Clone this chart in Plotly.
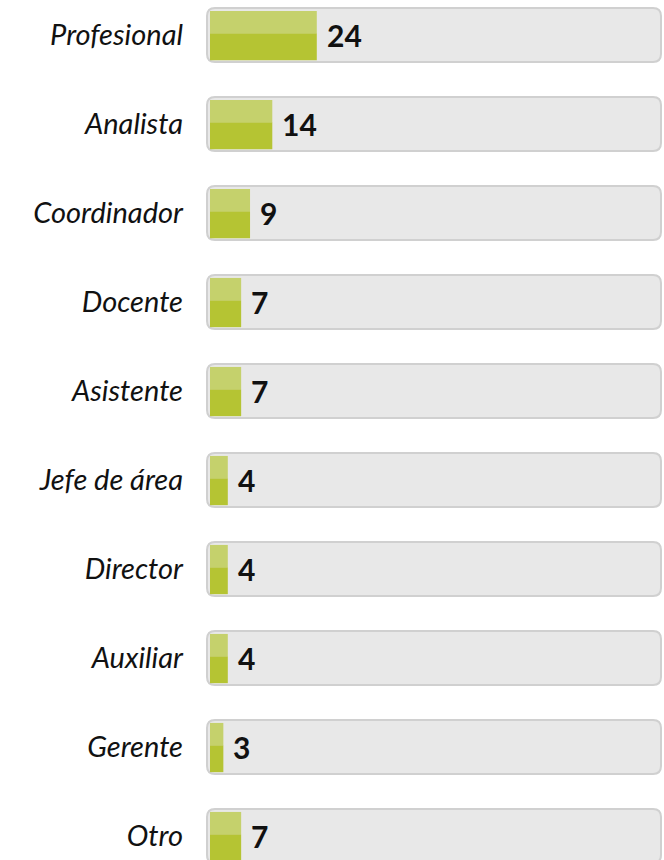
import plotly.graph_objects as go

categories = ["Profesional", "Analista", "Coordinador", "Docente", "Asistente",
              "Jefe de área", "Director", "Auxiliar", "Gerente", "Otro"]
values = [24, 14, 9, 7, 7, 4, 4, 4, 3, 7]

rows = list(range(len(categories)))

LIGHT = "#c5d16c"
DARK = "#b5c433"
FONT = "Lato"

fig = go.Figure()

# top (lighter) half of each bar
fig.add_trace(go.Bar(
    y=rows, x=values, orientation="h", base=0,
    width=0.255, offset=-0.27,
    marker=dict(color=LIGHT, line=dict(width=0)),
    hoverinfo="skip", showlegend=False,
))
# bottom (darker) half of each bar
fig.add_trace(go.Bar(
    y=rows, x=values, orientation="h", base=0,
    width=0.30, offset=-0.017,
    marker=dict(color=DARK, line=dict(width=0)),
    hoverinfo="skip", showlegend=False,
))

# rounded grey tracks (pixel-sized, anchored at x=0 of each row)
def rrect(x0, y0, x1, y1, r):
    return (f"M {x0+r},{y0} L {x1-r},{y0} Q {x1},{y0} {x1},{y0+r} "
            f"L {x1},{y1-r} Q {x1},{y1} {x1-r},{y1} L {x0+r},{y1} "
            f"Q {x0},{y1} {x0},{y1-r} L {x0},{y0+r} Q {x0},{y0} {x0+r},{y0} Z")

shapes = []
for i in rows:
    shapes.append(dict(
        type="path", layer="below",
        xref="x", yref="y", xsizemode="pixel", ysizemode="pixel",
        xanchor=0, yanchor=i,
        path=rrect(-3, -27, 451, 27, 8),
        fillcolor="#e8e8e8", line=dict(color="#d0d0d0", width=2),
    ))

annotations = []
for i, v in zip(rows, values):
    annotations.append(dict(
        x=v, y=i, xref="x", yref="y", text=f"<b>{v}</b>",
        showarrow=False, xanchor="left", yanchor="middle", xshift=8,
        font=dict(family=FONT, size=30, color="#111111"),
    ))

fig.update_layout(
    width=664, height=860,
    margin=dict(l=200, r=0, t=0, b=0),
    paper_bgcolor="white", plot_bgcolor="white",
    barmode="overlay",
    shapes=shapes, annotations=annotations,
    xaxis=dict(range=[-2.247, 102.02], visible=False, fixedrange=True),
    yaxis=dict(
        range=[9.27, -0.393], tickmode="array", tickvals=rows,
        ticktext=[f"<i>{c}</i>" for c in categories],
        showgrid=False, zeroline=False, showline=False, ticks="",
        ticklabelstandoff=16,
        tickfont=dict(family=FONT, size=29, color="#111111"),
        fixedrange=True,
    ),
)

fig.write_html("out.html", config={"displayModeBar": False},
               post_script="document.body.style.margin='0';")
